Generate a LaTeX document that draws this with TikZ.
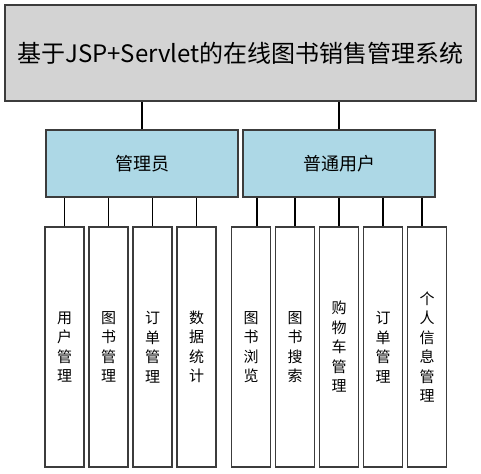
\documentclass[tikz,border=0pt]{standalone}
\usepackage{fontspec}
\setmainfont{Noto Sans CJK SC}
\usepackage{tikz}
\usetikzlibrary{positioning,calc}

\definecolor{boxgray}{HTML}{D3D3D3}
\definecolor{boxblue}{HTML}{ADD8E6}
\definecolor{rimgray}{HTML}{3C3C3C}

\begin{document}
\begin{tikzpicture}
                    [
                        x=1pt, y=-1pt,
                        every path/.style={line width=1.3pt},
                        boxbase/.style={draw=rimgray, inner sep=0pt},
                        topbox/.style={boxbase, fill=boxgray, minimum width=471pt, minimum height=96pt, font=\fontsize{24}{28}\selectfont},
                        rolebox/.style={boxbase, fill=boxblue, minimum width=192pt, minimum height=67pt, font=\fontsize{18}{21}\selectfont},
                        leafbox/.style={boxbase, fill=white, minimum width=39pt, minimum height=240pt, align=center, font=\fontsize{15}{19.5}\selectfont}
                    ]

                    % Rahmen
                    \useasboundingbox (0,0) rectangle (481,473);

                    \node[topbox] (sys) at (240.5,53) {基于JSP+Servlet的在线图书销售管理系统};

                    \node[rolebox] (admin) at (142,163.5) {管理员};
                    \node[rolebox] (user) at (339,163.5) {普通用户};

                    \draw (admin.north) -- (admin.north |- sys.south);
                    \draw (user.north) -- (user.north |- sys.south);

                    % Blaetter
                    \foreach \name/\parent/\cx/\off/\txt in {
                        a1/admin/64.5/0/{用\\户\\管\\理},
                        a2/admin/108.5/0/{图\\书\\管\\理},
                        a3/admin/152.5/0/{订\\单\\管\\理},
                        a4/admin/196.5/0/{数\\据\\统\\计},
                        u1/user/251/6/{图\\书\\浏\\览},
                        u2/user/295/0/{图\\书\\搜\\索},
                        u3/user/339/0/{购\\物\\车\\管\\理},
                        u4/user/383/0/{订\\单\\管\\理},
                        u5/user/427/-5/{个\\人\\信\\息\\管\\理}}
                    {
                        \node[leafbox] (\name) at (\cx,347) {\txt};
                        \draw ([xshift=\off pt]\name.north) -- ([xshift=\off pt]\name.north |- \parent.south);
                    }
                \end{tikzpicture}
\end{document}
